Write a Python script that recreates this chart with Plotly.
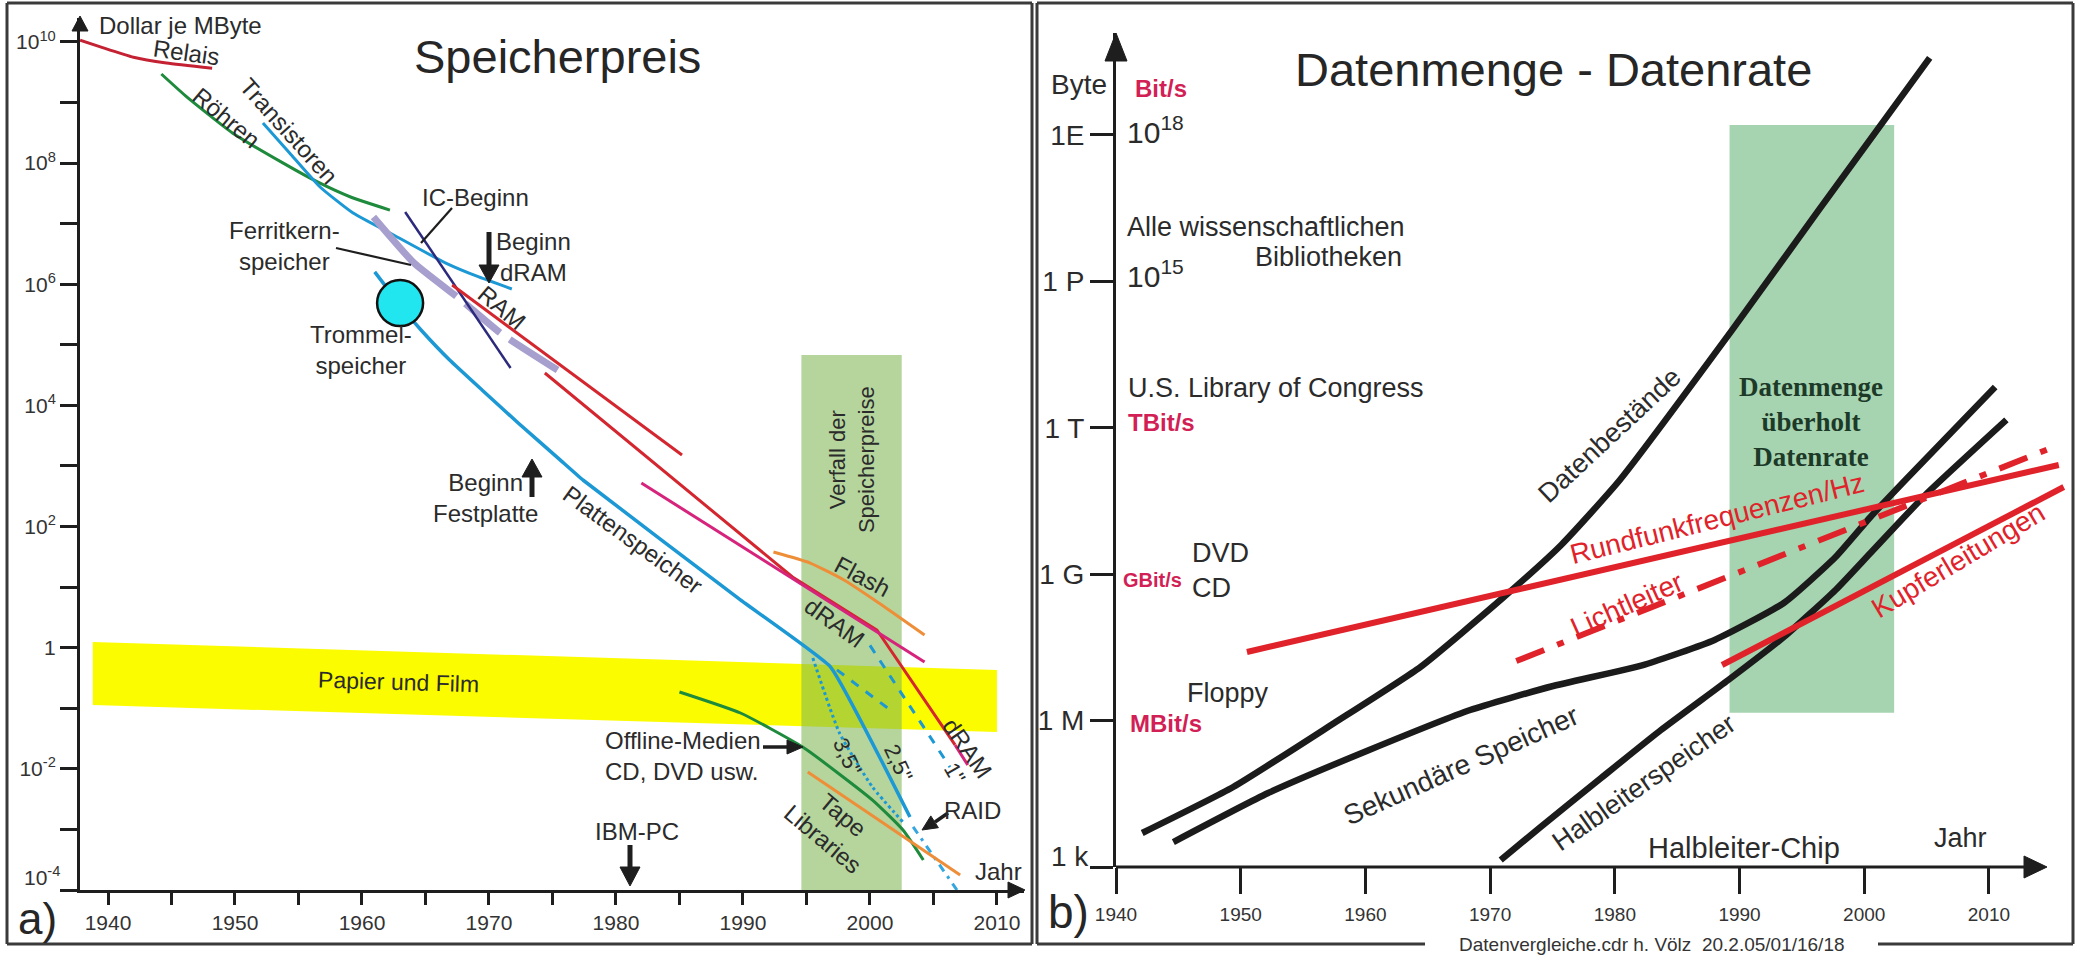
import plotly.graph_objects as go

W, H = 2085, 960
FONT = "Liberation Sans, Arial, Helvetica, sans-serif"
SERIF = "Liberation Serif, Times New Roman, serif"
INK = "#2b2b2b"

# ================= a) Speicherpreis  (Dollar je MByte) =================
relais_year = [1937.8, 1939.4, 1942.0, 1944.6, 1948.2]
relais_usd = [1.07e10, 8.3e9, 5.6e9, 4.5e9, 3.7e9]

roehren_year = [1944.2, 1946.2, 1949.8, 1953.8, 1956.5, 1959.1, 1962.2]
roehren_usd = [2.96e9, 1.24e9, 3.15e8, 1.0e8, 4.89e7, 2.76e7, 1.68e7]

transistor_year = [1952.2, 1954.3, 1956.7, 1959.3, 1962.2, 1966.6, 1969.2, 1971.8]
transistor_usd = [4.6e8, 1.47e8, 4.04e7, 1.5e7, 7.03e6, 2.24e6, 1.32e6, 8.36e5]

ferrit_year = [1960.9, 1964.1, 1967.8, 1970.9, 1975.4]
ferrit_usd = [1.29e7, 2.24e6, 5.5e5, 1.57e5, 3.85e4]

ic_year = [1963.4, 1971.7]
ic_usd = [1.56e7, 4.15e4]

platten_year = [1961.0, 1963.3, 1964.65, 1966.9, 1969.45, 1972.3, 1975.6, 1977.4,
                1989.8, 1996.9, 2003.15]
platten_usd = [1.6e6, 3.76e5, 1.76e5, 5.62e4, 1.8e4, 5.13e3, 1.26e3, 587,
               6.14, 0.48, 1.6e-3]

hd35_year = [1995.5, 1997.6, 2000.2, 2002.6]
hd35_usd = [0.676, 0.0391, 5.0e-3, 1.32e-3]

hd25_year = [1997.4, 2001.6]
hd25_usd = [0.43, 0.0935]

hd1_year = [2000.0, 2006.3]
hd1_usd = [1.09, 0.0107]

raid_year = [2003.4, 2006.85]
raid_usd = [1.1e-3, 1.0e-4]

ram_year = [1967.1, 1985.2]
ram_usd = [9.73e5, 1.52e3]

dram_year = [1974.4, 1993.9, 2000.55, 2006.7]
dram_usd = [3.43e4, 14.7, 1.96, 0.0248]
dram_tail_year = [2006.7, 2007.7]
dram_tail_usd = [0.0248, 0.0116]

mdram_year = [1982.0, 2004.3]
mdram_usd = [524, 0.581]

flash_year = [1992.4, 1995.3, 1997.95, 2000.7, 2004.3]
flash_usd = [38.0, 25.0, 13.1, 5.47, 1.62]

offline_year = [1985.0, 1989.8, 1994.7, 2000.2, 2002.6, 2004.2]
offline_usd = [0.186, 0.0836, 0.0229, 3.05e-3, 9.77e-4, 3.13e-4]

tape_year = [1995.1, 2007.1]
tape_usd = [8.87e-3, 1.77e-4]

trommel_year = [1963.0]
trommel_usd = [4.9e5]

papier_year = [1938.8, 2010.0]
papier_hi = [1.24, 0.43]
papier_lo = [0.113, 0.0406]

verfall_year = [1994.6, 2002.5]
verfall_usd = [1e-4, 6.8e4]

a_xtick_vals = [1940, 1950, 1960, 1970, 1980, 1990, 2000, 2010]
a_xtick_text = ["1940", "1950", "1960", "1970", "1980", "1990", "2000", "2010"]
a_xminor_vals = [1945, 1955, 1965, 1975, 1985, 1995, 2005]
a_ytick_vals = [1e-2, 1e0, 1e2, 1e4, 1e6, 1e8, 1e10]
a_ytick_text = ["10<sup>-2</sup>", "1", "10<sup>2</sup>", "10<sup>4</sup>",
                "10<sup>6</sup>", "10<sup>8</sup>", "10<sup>10</sup>"]
a_yminor_vals = [1e-4, 1e-3, 1e-1, 1e1, 1e3, 1e5, 1e7, 1e9]

# ================= b) Datenmenge - Datenrate =================
bestand_year = [1942.1, 1949.4, 1957.5, 1964.4, 1971.1, 1975.7, 1980.4, 1989.4,
                1996.35, 2005.25]
bestand_byte = [4.98e3, 4.36e4, 8.93e5, 1.25e7, 3.41e8, 3.98e9, 8.51e10, 1.0e14,
                2.88e16, 3.8e19]

sekundaer_year = [1944.6, 1952.2, 1960.3, 1968.4, 1974.9, 1982.4, 1988.0, 1993.55,
                  1997.7, 2000.5, 2003.3, 2010.5]
sekundaer_byte = [3.25e3, 3.28e4, 2.5e5, 1.65e6, 5.0e6, 1.41e7, 4.49e7, 2.57e8,
                  2.25e9, 1.49e10, 8.51e10, 6.86e12]

halbleiter_year = [1970.85, 1974.05, 1978.9, 1983.7, 1989.1, 1993.55, 1997.7,
                   2000.5, 2004.9, 2011.4]
halbleiter_byte = [1.39e3, 6.61e3, 6.67e4, 6.41e5, 6.79e6, 5.16e7, 4.74e8,
                   2.72e9, 4.2e10, 1.45e12]

rundfunk_year = [1950.5, 2015.6]
rundfunk_rate = [2.55e7, 1.73e11]

licht_year = [1972.1, 2015.6]
licht_rate = [1.66e7, 4.45e11]

kupfer_year = [1988.6, 2016.0]
kupfer_rate = [1.38e7, 6.12e10]

ueberhol_year = [1989.2, 2002.4]
ueberhol_byte = [1.45e6, 1.6e18]

b_xtick_vals = [1940, 1950, 1960, 1970, 1980, 1990, 2000, 2010]
b_xtick_text = ["1940", "1950", "1960", "1970", "1980", "1990", "2000", "2010"]
b_ytick_vals = [1e6, 1e9, 1e12, 1e15, 1e18]
b_ytick_text = ["1 M", "1 G", "1 T", "1 P", "1E"]
b_yminor_vals = [1e3]


# ---------------- helpers (pixel -> paper for decoration) ----------------
def PX(x):
    return x / W


def PY(y):
    return 1 - y / H


fig = go.Figure()


def line(xs, ys, color, width=3, dash="solid", panel="a", smooth=0.5):
    xa, ya = ("x", "y") if panel == "a" else ("x2", "y2")
    fig.add_trace(go.Scatter(x=xs, y=ys, mode="lines", xaxis=xa, yaxis=ya,
                             line=dict(color=color, width=width, dash=dash,
                                       shape="spline", smoothing=smooth),
                             hoverinfo="skip", showlegend=False))


def band(xs_lo, xs_hi, ys_lo, ys_hi, color, panel="a"):
    xa, ya = ("x", "y") if panel == "a" else ("x2", "y2")
    fig.add_trace(go.Scatter(x=xs_lo + xs_hi[::-1] + xs_lo[:1],
                             y=ys_lo + ys_hi[::-1] + ys_lo[:1],
                             mode="lines", fill="toself", fillcolor=color,
                             line=dict(width=0), xaxis=xa, yaxis=ya,
                             hoverinfo="skip", showlegend=False))


# --- panel a background areas ---
band(papier_year, papier_year, papier_lo, papier_hi, "#fcfc00")
band(verfall_year, verfall_year, [verfall_usd[0]] * 2, [verfall_usd[1]] * 2,
     "rgba(128,182,86,0.58)")

RED = "#d3262f"
MAG = "#d6237c"
BLUE = "#1c98d4"
GREEN = "#1e8a3c"
ORANGE = "#ee8e38"

line(relais_year, relais_usd, "#c42233")
line(roehren_year, roehren_usd, GREEN)
line(transistor_year, transistor_usd, BLUE)
line(ferrit_year, ferrit_usd, "#a79fcd", width=7, dash="115px,12px,45px,12px,60px,12px")
line(ic_year, ic_usd, "#2c2a7c", width=2.5)
line(ram_year, ram_usd, RED)
line(dram_year, dram_usd, RED, smooth=0)
line(dram_tail_year, dram_tail_usd, MAG)
line(mdram_year, mdram_usd, MAG)
line(flash_year, flash_usd, ORANGE)
line(platten_year, platten_usd, BLUE, width=3.5, smooth=0.3)
line(hd35_year, hd35_usd, BLUE, width=3, dash="dot")
line(hd25_year, hd25_usd, BLUE, width=3, dash="dash")
line(hd1_year, hd1_usd, BLUE, width=3, dash="dash")
line(raid_year, raid_usd, "#35a6df", width=3, dash="8px,6px,3px,6px")
line(offline_year, offline_usd, GREEN)
line(tape_year, tape_usd, ORANGE)

fig.add_trace(go.Scatter(x=trommel_year, y=trommel_usd, mode="markers",
                         xaxis="x", yaxis="y",
                         marker=dict(size=46, color="#22e6ef",
                                     line=dict(color="#111", width=2.5)),
                         hoverinfo="skip", showlegend=False))

# --- panel b ---
band(ueberhol_year, ueberhol_year, [ueberhol_byte[0]] * 2, [ueberhol_byte[1]] * 2,
     "#a6d4b0", panel="b")
BLK = "#1b1b1b"
RRED = "#e0232b"
line(bestand_year, bestand_byte, BLK, width=6.5, panel="b")
line(sekundaer_year, sekundaer_byte, BLK, width=6.5, panel="b")
line(halbleiter_year, halbleiter_byte, BLK, width=6.5, panel="b")
line(rundfunk_year, rundfunk_rate, RRED, width=6, panel="b")
line(licht_year, licht_rate, RRED, width=6, dash="30px,14px,7px,14px", panel="b")
line(kupfer_year, kupfer_rate, RRED, width=6, panel="b")

# ---------------- annotations ----------------
ann = []


def lab(text, x, y, panel="a", size=24, angle=0, color=INK, xanchor="center",
        align="center", family=FONT, yanchor="middle"):
    xr, yr = ("x", "y") if panel == "a" else ("x2", "y2")
    if panel == "p":
        xr, yr = "paper", "paper"
    ann.append(dict(text=text, x=x, y=y, xref=xr, yref=yr, showarrow=False,
                    textangle=angle, xanchor=xanchor, yanchor=yanchor, align=align,
                    font=dict(size=size, color=color, family=family)))


# panel a labels (x = year, y = log10 of Dollar je MByte)
lab("Dollar je MByte", 1939.1, 10.28, xanchor="left")
lab("Relais", 1946.2, 9.82, angle=8)
lab("Röhren", 1949.3, 8.75, angle=40)
lab("Transistoren", 1954.3, 8.53, angle=48)
lab("IC-Beginn", 1968.9, 7.44)
lab("Ferritkern-<br>speicher", 1953.9, 6.63)
lab("Trommel-<br>speicher", 1959.9, 4.92)
lab("Beginn<br>dRAM", 1973.5, 6.45)
lab("RAM", 1971.0, 5.61, angle=40)
lab("Beginn<br>Festplatte", 1969.7, 2.47)
lab("Plattenspeicher", 1981.3, 1.78, angle=36)
lab("Verfall der<br>Speicherpreise", 1998.6, 3.10, angle=-90, size=22)
lab("Flash", 1999.4, 1.17, angle=28)
lab("dRAM", 1997.2, 0.41, angle=36)
lab("Papier und Film", 1962.9, -0.57, angle=1.7, size=23)
lab("Offline-Medien<br>CD, DVD usw.", 1979.0, -1.79, xanchor="left", align="left")
lab("3,5\"", 1998.2, -1.80, angle=65, size=22)
lab("2,5\"", 2002.2, -1.90, angle=65, size=22)
lab("1\"", 2006.7, -2.07, angle=60, size=22)
lab("dRAM", 2007.7, -1.66, angle=55)
lab("Tape<br>Libraries", 1997.1, -2.96, angle=40)
lab("RAID", 2008.1, -2.68)
lab("IBM-PC", 1981.65, -3.04)
lab("Jahr", 2010.1, -3.70)

# panel b labels (x = year, y = log10 of Byte resp. Bit/s)
RB = "#d21f55"
lab("<b>Bit/s</b>", 1941.4, 18.96, panel="b", size=24, color=RB, xanchor="left")
lab("10<sup>18</sup>", 1940.75, 18.1, panel="b", size=30, xanchor="left")
lab("Alle wissenschaftlichen", 1940.75, 16.11, panel="b", size=27, xanchor="left")
lab("Bibliotheken", 1963.1, 15.50, panel="b", size=27, xanchor="right")
lab("10<sup>15</sup>", 1940.75, 15.15, panel="b", size=30, xanchor="left")
lab("U.S. Library of Congress", 1940.8, 12.82, panel="b", size=27, xanchor="left")
lab("<b>TBit/s</b>", 1940.8, 12.10, panel="b", size=24, color=RB, xanchor="left")
lab("<b>GBit/s</b>", 1940.4, 8.88, panel="b", size=20, color=RB, xanchor="left")
lab("DVD", 1945.9, 9.43, panel="b", size=27, xanchor="left")
lab("CD", 1945.9, 8.72, panel="b", size=27, xanchor="left")
lab("Floppy", 1945.5, 6.57, panel="b", size=27, xanchor="left")
lab("<b>MBit/s</b>", 1941.0, 5.95, panel="b", size=24, color=RB, xanchor="left")
lab("Datenbestände", 1979.6, 11.85, panel="b", size=27, angle=-43)
lab("<b>Datenmenge<br>überholt<br>Datenrate</b>", 1995.7, 12.12, panel="b",
    size=27, color="#1d3a29", family=SERIF)
lab("Rundfunkfrequenzen/Hz", 1988.2, 10.15, panel="b", size=28, angle=-14, color=RRED)
lab("Lichtleiter", 1981.0, 8.37, panel="b", size=28, angle=-24, color=RRED)
lab("Kupferleitungen", 2007.5, 9.29, panel="b", size=28, angle=-31, color=RRED)
lab("Sekundäre Speicher", 1967.65, 5.09, panel="b", size=28, angle=-24)
lab("Halbleiterspeicher", 1982.3, 4.72, panel="b", size=27, angle=-35)
lab("Halbleiter-Chip", 1990.35, 3.39, panel="b", size=29)
lab("Jahr", 2007.7, 3.59, panel="b", size=27)

# paper labels
lab("Byte", PX(1109), PY(85), panel="p", size=28, xanchor="right")
lab("1 k", PX(1091), PY(856), panel="p", size=28, xanchor="right")
lab("10<sup>-4</sup>", PX(62), PY(876), panel="p", size=21, color="#333", xanchor="right")
lab("Speicherpreis", PX(557), PY(57), panel="p", size=47, color="#262626")
lab("Datenmenge - Datenrate", PX(1553), PY(70), panel="p", size=47, color="#262626")
lab("a)", PX(37), PY(918), panel="p", size=44, color="#262626")
lab("b)", PX(1068), PY(912), panel="p", size=46, color="#262626")
lab("Datenvergleiche.cdr h. Völz  20.2.05/01/16/18", PX(1652), PY(944), panel="p",
    size=19, color="#333")

# ---------------- shapes: borders, pointer arrows and arrow heads ----------------
shapes = []
BC = "#3a3a3a"
AC = "#1e1e1e"


def seg(x0, y0, x1, y1, w=3, c=BC):
    shapes.append(dict(type="line", xref="paper", yref="paper", x0=PX(x0), y0=PY(y0),
                       x1=PX(x1), y1=PY(y1), line=dict(color=c, width=w)))


def tri(tip, b1, b2, c=AC):
    path = "M {} {} L {} {} L {} {} Z".format(PX(tip[0]), PY(tip[1]), PX(b1[0]), PY(b1[1]),
                                              PX(b2[0]), PY(b2[1]))
    shapes.append(dict(type="path", xref="paper", yref="paper", path=path,
                       fillcolor=c, line=dict(color=c, width=1)))


# panel a frame
seg(7, 3, 1032, 3)
seg(7, 944, 1032, 944)
seg(7, 3, 7, 944)
seg(1032, 3, 1032, 944)
# panel b frame
seg(1037, 3, 2073, 3)
seg(2073, 3, 2073, 944)
seg(1037, 3, 1037, 944)
seg(1037, 944, 1425, 944)
seg(1878, 944, 2073, 944)
# panel b x axis line
seg(1116, 867, 2040, 867, w=3, c=AC)
# axis arrow heads
tri((80, 16), (72, 31), (88, 31))
tri((1025, 890), (1008, 882), (1008, 898))
tri((1116, 33), (1105, 61), (1127, 61))
tri((2047, 867), (2024, 856), (2024, 878))
# leader lines
seg(452, 208, 421, 243, w=2.2, c=AC)
seg(336, 248, 411, 265, w=2.2, c=AC)
# pointer arrows
seg(489, 232, 489, 268, w=5, c=AC)
tri((489, 283), (479, 265), (499, 265))
seg(532, 497, 532, 474, w=5, c=AC)
tri((532, 459), (522, 477), (542, 477))
seg(630, 845, 630, 870, w=5, c=AC)
tri((630, 886), (620, 867), (640, 867))
seg(763, 747, 790, 747, w=3.5, c=AC)
tri((803, 747), (787, 740), (787, 754))
seg(948, 813, 935, 822, w=3.5, c=AC)
tri((922, 830), (938.4, 827.7), (930.8, 815.9))

AX = dict(showgrid=False, zeroline=False, fixedrange=True, automargin=False)
TK = dict(ticks="outside", tickwidth=3, tickcolor=AC)

fig.update_layout(
    width=W, height=H, margin=dict(l=0, r=0, t=0, b=0, pad=0, autoexpand=False),
    paper_bgcolor="white", plot_bgcolor="rgba(0,0,0,0)",
    hovermode=False, showlegend=False,
    font=dict(family=FONT, color=INK),
    xaxis=dict(AX, **TK, domain=[PX(80), PX(1024)], range=[1937.795, 2012.13], anchor="y",
               showline=True, linewidth=3, linecolor=AC, ticklen=12,
               tickmode="array", tickvals=a_xtick_vals, ticktext=a_xtick_text,
               minor=dict(tickmode="array", tickvals=a_xminor_vals, ticks="outside",
                          ticklen=12, tickwidth=3, tickcolor=AC, showgrid=False),
               tickfont=dict(size=21, color="#333"), ticklabelstandoff=0),
    yaxis=dict(AX, **TK, type="log", domain=[PY(890), PY(18)], range=[-4, 10.396],
               anchor="x", showline=True, linewidth=3, linecolor=AC, ticklen=17,
               tickmode="array", tickvals=a_ytick_vals, ticktext=a_ytick_text,
               minor=dict(tickmode="array", tickvals=a_yminor_vals, ticks="outside",
                          ticklen=17, tickwidth=3, tickcolor=AC, showgrid=False),
               tickfont=dict(size=21, color="#333")),
    xaxis2=dict(AX, **TK, domain=[PX(1116), PX(2068)], range=[1940, 2016.34], anchor="y2",
                showline=False, ticklen=26,
                tickmode="array", tickvals=b_xtick_vals, ticktext=b_xtick_text,
                tickfont=dict(size=19, color="#333"), ticklabelstandoff=4),
    yaxis2=dict(AX, **TK, type="log", domain=[PY(867), PY(33)], range=[3, 20.09],
                anchor="x2", showline=True, linewidth=3, linecolor=AC, ticklen=23,
                tickmode="array", tickvals=b_ytick_vals, ticktext=b_ytick_text,
                minor=dict(tickmode="array", tickvals=b_yminor_vals, ticks="outside",
                           ticklen=23, tickwidth=3, tickcolor=AC, showgrid=False),
                tickfont=dict(size=28, color="#2b2b2b")),
    annotations=ann,
    shapes=shapes,
)

fig.write_html("out.html")
